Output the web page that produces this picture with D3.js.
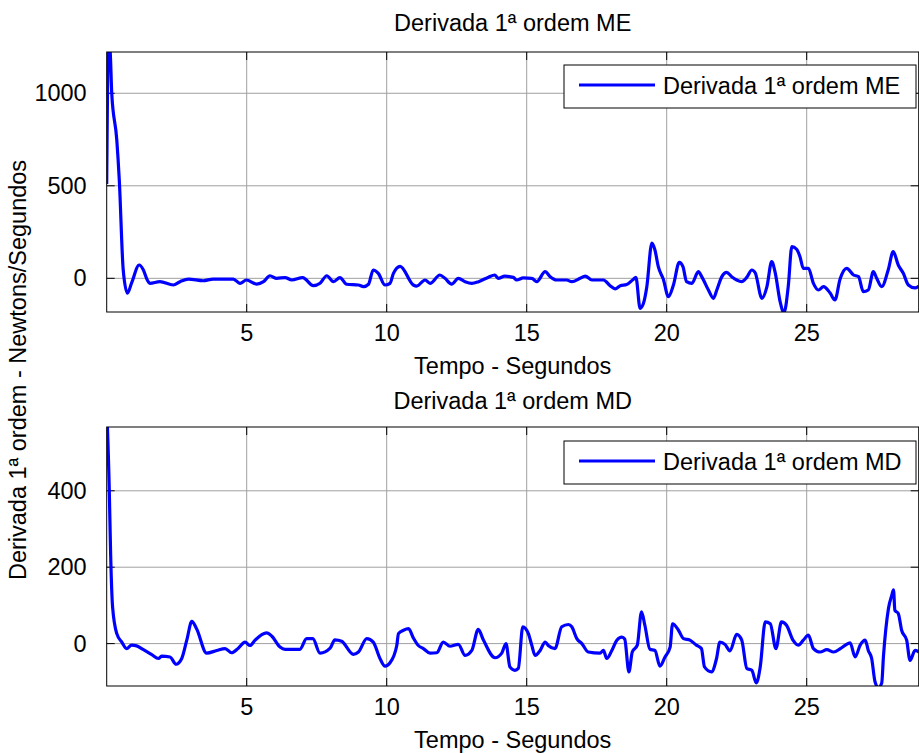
<!DOCTYPE html>
<html>
<head>
<meta charset="utf-8">
<script src="https://cdn.jsdelivr.net/npm/d3@7"></script>
<style>
  body { margin: 0; background: #fff; }
  text { font-family: "Liberation Sans", Arial, sans-serif; fill: #000; }
</style>
</head>
<body>
<div id="chart"></div>
<script>
var xTicks = [5, 10, 15, 20, 25],
    meYTicks = [0, 500, 1000],
    mdYTicks = [0, 200, 400];

// Derivada 1a ordem ME
var meTime = [0, 0.06, 0.12, 0.18, 0.36, 0.45, 0.59, 0.74, 0.89, 1.16, 1.31, 1.45, 1.54, 1.9, 2.38, 2.62, 2.92, 3.45, 3.8, 4.52,
  4.76, 4.99, 5.36, 5.6, 5.83, 6.07, 6.37, 6.61, 7.0, 7.38, 7.62, 7.86, 8.1, 8.33, 8.57, 8.99, 9.17, 9.35, 9.52, 9.7,
  9.94, 10.12, 10.24, 10.48, 10.95, 11.07, 11.37, 11.55, 11.9, 12.08, 12.32, 12.56, 12.8, 13.04, 13.28, 13.62, 13.86, 13.98, 14.22, 14.52,
  14.64, 14.88, 15.18, 15.36, 15.66, 15.83, 16.07, 16.43, 16.61, 16.91, 17.09, 17.33, 17.74, 17.98, 18.16, 18.34, 18.57, 18.81, 18.9, 19.05,
  19.17, 19.29, 19.47, 19.58, 19.7, 19.88, 20.06, 20.24, 20.45, 20.58, 20.71, 20.9, 21.13, 21.25, 21.49, 21.67, 21.79, 21.97, 22.14, 22.32,
  22.5, 22.68, 22.86, 23.04, 23.16, 23.4, 23.58, 23.75, 23.88, 24.05, 24.19, 24.34, 24.47, 24.64, 24.76, 24.88, 25.06, 25.24, 25.42, 25.6,
  25.83, 26.01, 26.19, 26.43, 26.67, 26.85, 27.02, 27.2, 27.38, 27.5, 27.68, 27.91, 28.09, 28.27, 28.45, 28.63, 28.87, 29.01];
var meValue = [510, 1250, 1230, 1000, 748, 530, 45, -80, -25, 72, 45, -9, -27, -18, -36, -18, -4, -13, -4, -4,
  -27, -9, -31, -18, 14, 0, 4, -9, 4, -40, -27, 14, -18, 4, -32, -36, -45, -32, 45, 27,
  -36, -27, 27, 65, -36, -42, -9, -27, 18, 0, -31, 0, -18, -27, -18, 5, 18, 0, 12, 5,
  -9, 2, 0, -18, 36, 10, -9, -9, -18, 0, 12, -9, -9, -40, -57, -40, -34, -5, 5, -162,
  -135, -45, 190, 153, 63, -5, -99, -36, 86, 63, -18, -27, 36, 9, -63, -108, -63, 9, 32, 9,
  -9, -18, 5, 45, 30, -108, -45, 90, 27, -126, -185, -45, 171, 157, 117, 54, 54, -27, -63, -45,
  -78, -117, -5, 54, 18, 9, -72, -63, 36, 0, -45, 45, 144, 72, 27, -36, -52, -42];

// Derivada 1a ordem MD
var mdTime = [0, 0.09, 0.14, 0.21, 0.36, 0.54, 0.71, 0.89, 1.07, 1.31, 1.61, 1.85, 1.96, 2.26, 2.48, 2.68, 2.86, 3.04, 3.21, 3.57,
  3.93, 4.23, 4.46, 4.7, 4.94, 5.12, 5.3, 5.71, 5.89, 6.19, 6.37, 6.9, 7.14, 7.36, 7.62, 7.98, 8.15, 8.39, 8.81, 8.99,
  9.29, 9.52, 9.76, 9.94, 10.12, 10.36, 10.42, 10.6, 10.78, 10.95, 11.13, 11.31, 11.55, 11.79, 12.02, 12.26, 12.56, 12.8, 13.04, 13.27,
  13.45, 13.87, 14.11, 14.26, 14.4, 14.58, 14.7, 14.86, 15.06, 15.18, 15.3, 15.48, 15.66, 15.77, 16.01, 16.25, 16.49, 16.61, 16.79, 16.97,
  17.2, 17.62, 17.74, 17.86, 18.04, 18.22, 18.4, 18.5, 18.65, 18.77, 18.95, 19.1, 19.22, 19.4, 19.58, 19.76, 19.94, 20.12, 20.21, 20.42,
  20.6, 20.83, 21.06, 21.24, 21.35, 21.6, 21.78, 21.9, 22.08, 22.26, 22.5, 22.68, 22.86, 23.04, 23.2, 23.34, 23.52, 23.7, 23.9, 24.1,
  24.28, 24.51, 24.7, 24.88, 25.06, 25.24, 25.48, 25.72, 25.96, 26.2, 26.38, 26.55, 26.73, 26.91, 27.09, 27.2, 27.32, 27.44, 27.56, 27.68,
  27.74, 27.92, 28.04, 28.1, 28.15, 28.27, 28.39, 28.57, 28.69, 28.87, 29.01];
var mdValue = [620, 410, 236, 96, 26, 4, -13, -4, -6, -16, -29, -39, -33, -35, -54, -39, 9, 58, 39, -25,
  -18, -13, -24, -12, 4, -5, 9, 28, 20, -9, -15, -15, 13, 13, -25, -12, 10, 6, -28, -22,
  13, 4, -39, -59, -50, -5, 26, 35, 39, 15, -5, -13, -25, -24, 4, -7, -2, -31, -18, 37,
  10, -37, -25, 0, -61, -70, -65, 44, 26, -4, -31, -18, 4, -5, -13, 44, 50, 44, 13, 0,
  -22, -25, -18, -39, -18, 9, 17, 12, -74, -22, -4, 83, 48, -15, -18, -59, -35, -10, 52, 35,
  13, 9, -4, -13, -61, -74, -39, 4, -2, -19, 24, 9, -65, -70, -103, -61, 57, 52, -13, 57,
  48, 9, -4, 9, 22, -13, -22, -16, -22, -13, -4, 2, -35, -4, 9, -18, -39, -100, -115, -103,
  -35, 92, 127, 141, 87, 79, 35, 9, -44, -18, -22];

var width = 919, height = 753,
    axLeft = 106.7, axRight = 918.7,
    tickLen = 8,
    fontSize = 23.5;

var svg = d3.select("#chart").append("svg")
    .attr("width", width)
    .attr("height", height);

var x = d3.scaleLinear().domain([0, 29]).range([axLeft, axRight]);

var panels = [
  { id: "me", title: "Derivada 1ª ordem ME", top: 52, bottom: 312, domain: [-182, 1223],
    yTicks: meYTicks, time: meTime, value: meValue, legendTop: 65, titleY: 31 },
  { id: "md", title: "Derivada 1ª ordem MD", top: 427, bottom: 686, domain: [-111, 567],
    yTicks: mdYTicks, time: mdTime, value: mdValue, legendTop: 441, titleY: 409 }
];

panels.forEach(function(p) {
  var y = d3.scaleLinear().domain(p.domain).range([p.bottom, p.top]);
  var g = svg.append("g");

  g.append("clipPath").attr("id", "clip-" + p.id)
    .append("rect")
      .attr("x", axLeft).attr("y", p.top)
      .attr("width", axRight - axLeft).attr("height", p.bottom - p.top);

  // grid
  g.selectAll(".vgrid").data(xTicks).enter().append("line")
    .attr("x1", function(d) { return x(d); }).attr("x2", function(d) { return x(d); })
    .attr("y1", p.top).attr("y2", p.bottom)
    .attr("stroke", "#a0a0a0").attr("stroke-width", 1);
  g.selectAll(".hgrid").data(p.yTicks).enter().append("line")
    .attr("x1", axLeft).attr("x2", axRight)
    .attr("y1", function(d) { return y(d); }).attr("y2", function(d) { return y(d); })
    .attr("stroke", "#a0a0a0").attr("stroke-width", 1);

  // inward ticks on all four sides
  xTicks.forEach(function(t) {
    g.append("line").attr("x1", x(t)).attr("x2", x(t)).attr("y1", p.bottom).attr("y2", p.bottom - tickLen).attr("stroke", "#000");
    g.append("line").attr("x1", x(t)).attr("x2", x(t)).attr("y1", p.top).attr("y2", p.top + tickLen).attr("stroke", "#000");
  });
  p.yTicks.forEach(function(t) {
    g.append("line").attr("x1", axLeft).attr("x2", axLeft + tickLen).attr("y1", y(t)).attr("y2", y(t)).attr("stroke", "#000");
    g.append("line").attr("x1", axRight).attr("x2", axRight - tickLen).attr("y1", y(t)).attr("y2", y(t)).attr("stroke", "#000");
  });

  // series
  var pts = p.time.map(function(t, i) { return [t, p.value[i]]; });
  var line = d3.line()
    .x(function(d) { return x(d[0]); })
    .y(function(d) { return y(d[1]); })
    .curve(d3.curveMonotoneX);
  g.append("path")
    .attr("clip-path", "url(#clip-" + p.id + ")")
    .attr("d", line(pts))
    .attr("fill", "none")
    .attr("stroke", "#0000ff")
    .attr("stroke-width", 3.2)
    .attr("stroke-linejoin", "round");

  // box
  g.append("rect")
    .attr("x", axLeft).attr("y", p.top)
    .attr("width", axRight - axLeft).attr("height", p.bottom - p.top)
    .attr("fill", "none").attr("stroke", "#000").attr("stroke-width", 1);

  // tick labels
  g.selectAll(".xlab").data(xTicks).enter().append("text")
    .attr("x", function(d) { return x(d); })
    .attr("y", p.bottom + 29)
    .attr("text-anchor", "middle")
    .style("font-size", fontSize + "px")
    .text(function(d) { return d; });
  g.selectAll(".ylab").data(p.yTicks).enter().append("text")
    .attr("x", axLeft - 20)
    .attr("y", function(d) { return y(d) + 8; })
    .attr("text-anchor", "end")
    .style("font-size", fontSize + "px")
    .text(function(d) { return d; });

  // title and x label
  g.append("text")
    .attr("x", (axLeft + axRight) / 2).attr("y", p.titleY)
    .attr("text-anchor", "middle")
    .style("font-size", fontSize + "px")
    .text(p.title);
  g.append("text")
    .attr("x", (axLeft + axRight) / 2).attr("y", p.bottom + 62)
    .attr("text-anchor", "middle")
    .style("font-size", fontSize + "px")
    .text("Tempo - Segundos");

  // legend
  var lg = g.append("g").attr("transform", "translate(564," + p.legendTop + ")");
  lg.append("rect").attr("width", 352).attr("height", 43)
    .attr("fill", "#fff").attr("stroke", "#000").attr("stroke-width", 1);
  lg.append("line").attr("x1", 15).attr("x2", 91).attr("y1", 20).attr("y2", 20)
    .attr("stroke", "#0000ff").attr("stroke-width", 3.2);
  lg.append("text").attr("x", 99).attr("y", 29)
    .style("font-size", fontSize + "px")
    .text(p.title);
});

svg.append("text")
  .attr("transform", "translate(26,370) rotate(-90)")
  .attr("text-anchor", "middle")
  .style("font-size", fontSize + "px")
  .text("Derivada 1ª ordem - Newtons/Segundos");
</script>
</body>
</html>
